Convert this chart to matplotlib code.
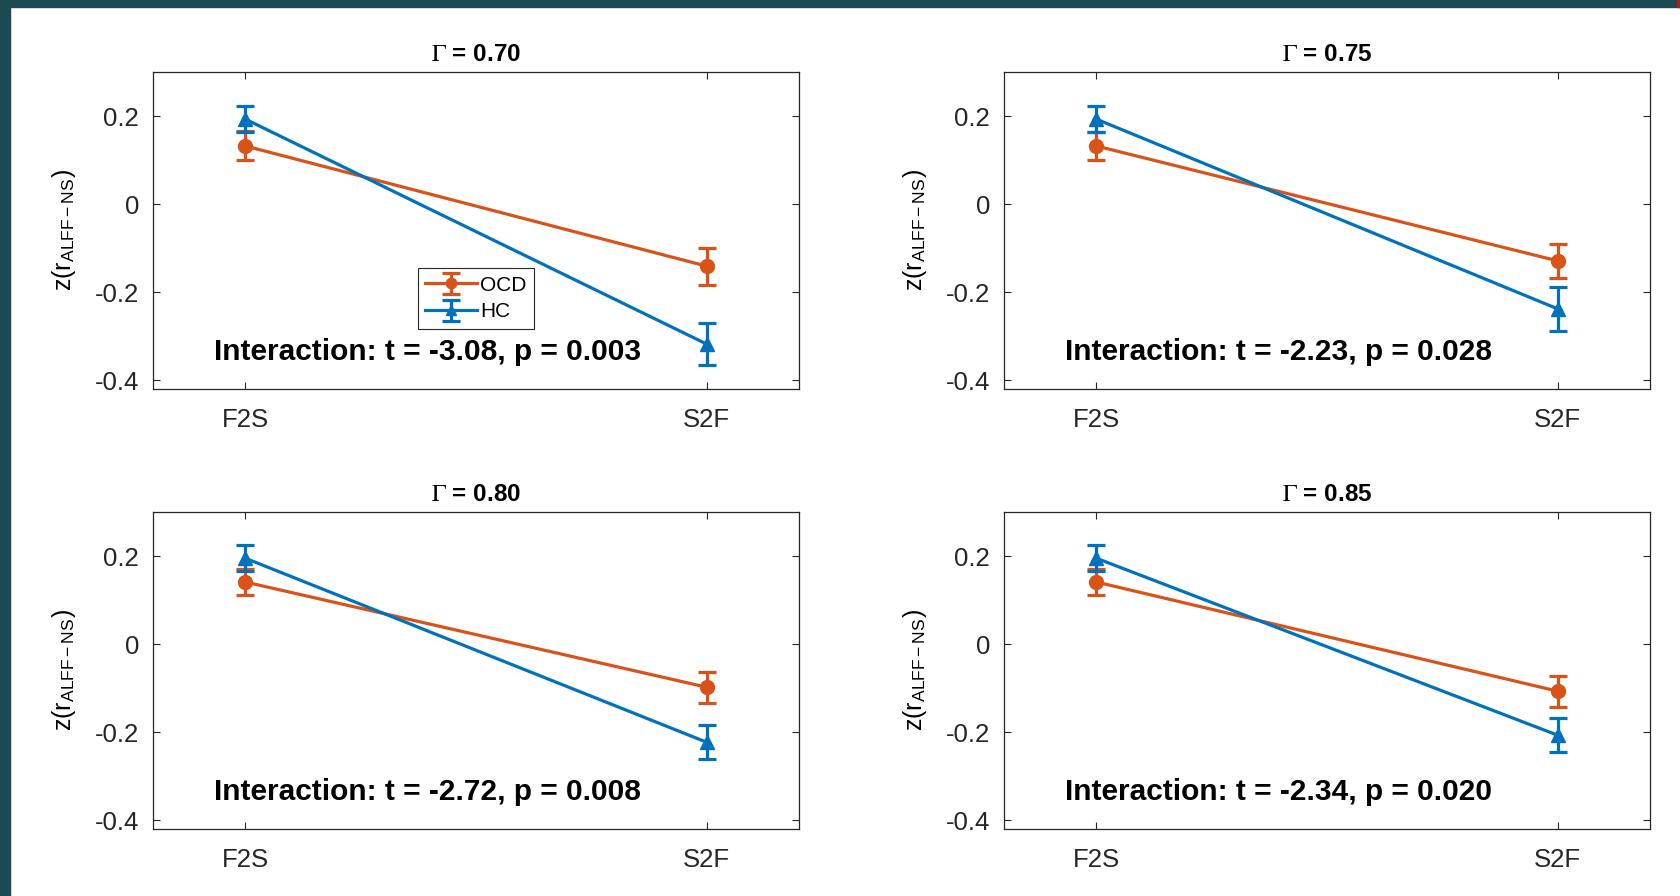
import matplotlib
matplotlib.use('Agg')
import matplotlib.pyplot as plt
from matplotlib.patches import Rectangle

plt.rcParams['font.family'] = ['Liberation Sans', 'DejaVu Sans']
plt.rcParams['mathtext.fontset'] = 'stix'

# ── Data ─────────────────────────────────────────────────────
conditions = ['F2S', 'S2F']
gammas = ['0.70', '0.75', '0.80', '0.85']

ocd_mean = [[0.132, -0.141], [0.132, -0.129], [0.141, -0.098], [0.141, -0.107]]
ocd_err = [[0.033, 0.042], [0.031, 0.038], [0.030, 0.035], [0.030, 0.035]]
hc_mean = [[0.193, -0.318], [0.193, -0.238], [0.195, -0.223], [0.195, -0.207]]
hc_err = [[0.030, 0.048], [0.030, 0.050], [0.030, 0.039], [0.030, 0.038]]

t_vals = ['-3.08', '-2.23', '-2.72', '-2.34']
p_vals = ['0.003', '0.028', '0.008', '0.020']

OCD_COLOR = '#D95319'
HC_COLOR = '#0072BD'
TEAL = '#1b4a52'

# ── Plot ─────────────────────────────────────────────────────
W, H = 1681, 896
fig = plt.figure(figsize=(W / 100, H / 100), dpi=100)
fig.patch.set_facecolor('white')

# slide border
fig.patches.append(Rectangle((0, 0), 10 / W, 1, transform=fig.transFigure,
                             color=TEAL, zorder=0))
fig.patches.append(Rectangle((0, 1 - 7 / H), 1, 7 / H, transform=fig.transFigure,
                             color=TEAL, zorder=0))
fig.patches.append(Rectangle((1677 / W, 1 - 7 / H), 4 / W, 7 / H,
                             transform=fig.transFigure, color='#b01c1c', zorder=1))

lefts = [153 / W, 1004 / W]
bottoms = [1 - 389 / H, 1 - 829 / H]
aw = 646 / W
ah = 317 / H

x = [1, 2]
for i, g in enumerate(gammas):
    r, c = divmod(i, 2)
    ax = fig.add_axes([lefts[c], bottoms[r], aw, ah])

    ax.errorbar(x, ocd_mean[i], yerr=ocd_err[i], color=OCD_COLOR, marker='o',
                markersize=10, linewidth=2.3, elinewidth=2.3, capsize=6.5,
                capthick=2.3, label='OCD')
    ax.errorbar(x, hc_mean[i], yerr=hc_err[i], color=HC_COLOR, marker='^',
                markersize=10, linewidth=2.3, elinewidth=2.3, capsize=6.5,
                capthick=2.3, label='HC')

    ax.set_xlim(0.8, 2.2)
    ax.set_ylim(-0.42, 0.3)
    ax.set_xticks(x)
    ax.set_xticklabels(conditions)
    ax.set_yticks([-0.4, -0.2, 0, 0.2])
    ax.set_yticklabels(['-0.4', '-0.2', '0', '0.2'])
    ax.tick_params(direction='in', top=True, right=True, length=5,
                   width=0.8, labelsize=18.5, colors='#262626', pad=10)
    ax.tick_params(axis='x', pad=14)
    for s in ax.spines.values():
        s.set_color('#262626')
        s.set_linewidth(0.9)

    ax.set_ylabel(r'z(r$_{\mathregular{ALFF-NS}}$)', fontsize=18, labelpad=12)
    ax.set_title(r'$\mathrm{\Gamma}$ = ' + g, fontsize=17.5, fontweight='bold',
                 pad=8)

    ax.text(0.932, -0.336, f'Interaction: t = {t_vals[i]}, p = {p_vals[i]}',
            fontsize=21.5, fontweight='bold', va='center', ha='left')

    if i == 0:
        leg = ax.legend(loc='lower left', bbox_to_anchor=(0.41, 0.19),
                        fontsize=15, fancybox=False, framealpha=1,
                        edgecolor='#262626', handlelength=2.5,
                        handletextpad=0.15, borderpad=0.35, labelspacing=0.38,
                        borderaxespad=0, markerscale=0.75)
        leg.get_frame().set_linewidth(0.8)

fig.savefig('out.png', dpi=100)
